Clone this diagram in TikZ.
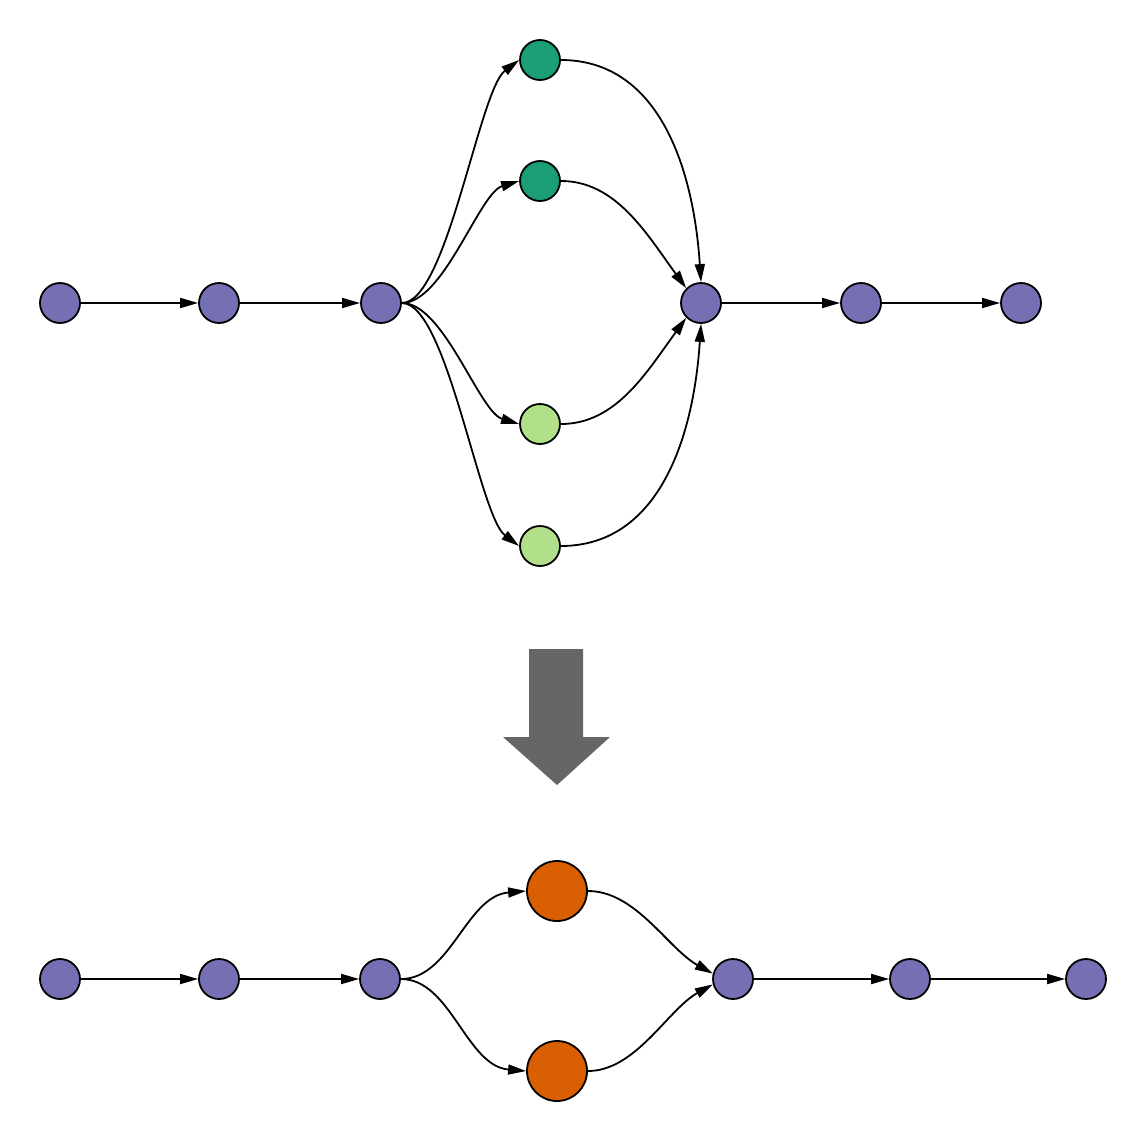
\documentclass[tikz,border=0pt]{standalone}
\usetikzlibrary{arrows.meta}
\definecolor{cpurple}{HTML}{7570B3}
\definecolor{cdgreen}{HTML}{1B9E77}
\definecolor{clgreen}{HTML}{B2DF8A}
\definecolor{corange}{HTML}{D95F02}
\definecolor{cgrey}{HTML}{666666}
\tikzset{
  vtx/.style={circle, draw=black, line width=1.8pt, minimum size=40pt, inner sep=0pt},
  bigvtx/.style={vtx, minimum size=60pt},
  edge/.style={line width=1.8pt, -{Triangle[length=18pt,width=10pt]}},
}
\begin{document}
\begin{tikzpicture}[x=1pt,y=-1pt]
\useasboundingbox (0,0) rectangle (1147,1143);
% top graph
\node[vtx, fill=cpurple] (a1) at (60,303) {};
\node[vtx, fill=cpurple] (a2) at (219,303) {};
\node[vtx, fill=cpurple] (a3) at (381,303) {};
\node[vtx, fill=cdgreen] (g1) at (540,60) {};
\node[vtx, fill=cdgreen] (g2) at (540,181) {};
\node[vtx, fill=clgreen] (l1) at (540,424) {};
\node[vtx, fill=clgreen] (l2) at (540,546) {};
\node[vtx, fill=cpurple] (a4) at (701,303) {};
\node[vtx, fill=cpurple] (a5) at (861,303) {};
\node[vtx, fill=cpurple] (a6) at (1021,303) {};
\draw[edge] (a1) -- (a2);
\draw[edge] (a2) -- (a3);
\draw[edge] (a3.east) .. controls +(45,0) and +(-40,30) .. (g1.west);
\draw[edge] (a3.east) .. controls +(42,0) and +(-40,12) .. (g2.west);
\draw[edge] (a3.east) .. controls +(42,0) and +(-40,-12) .. (l1.west);
\draw[edge] (a3.east) .. controls +(45,0) and +(-40,-30) .. (l2.west);
\draw[edge] (g1.east) .. controls +(95,0) and +(-8,-120) .. (a4.north);
\draw[edge] (g2.east) .. controls +(55,0) and +(-40,-55) .. (a4.north west);
\draw[edge] (l1.east) .. controls +(55,0) and +(-40,55) .. (a4.south west);
\draw[edge] (l2.east) .. controls +(95,0) and +(-8,120) .. (a4.south);
\draw[edge] (a4) -- (a5);
\draw[edge] (a5) -- (a6);
% big arrow
\fill[cgrey] (529,649) -- (583,649) -- (583,737) -- (610,737) -- (557,785) -- (503,737) -- (529,737) -- cycle;
% bottom graph
\node[vtx, fill=cpurple] (b1) at (60,979) {};
\node[vtx, fill=cpurple] (b2) at (219,979) {};
\node[vtx, fill=cpurple] (b3) at (380,979) {};
\node[bigvtx, fill=corange] (o1) at (557,891) {};
\node[bigvtx, fill=corange] (o2) at (557,1071) {};
\node[vtx, fill=cpurple] (b4) at (733,979) {};
\node[vtx, fill=cpurple] (b5) at (910,979) {};
\node[vtx, fill=cpurple] (b6) at (1086,979) {};
\draw[edge] (b1) -- (b2);
\draw[edge] (b2) -- (b3);
\draw[edge] (b3.east) .. controls +(50,0) and +(-60,5) .. (o1.west);
\draw[edge] (b3.east) .. controls +(50,0) and +(-60,-5) .. (o2.west);
\draw[edge] (o1.east) .. controls +(48,0) and +(-45,-25) .. (b4.165);
\draw[edge] (o2.east) .. controls +(48,0) and +(-45,25) .. (b4.195);
\draw[edge] (b4) -- (b5);
\draw[edge] (b5) -- (b6);
\end{tikzpicture}
\end{document}
